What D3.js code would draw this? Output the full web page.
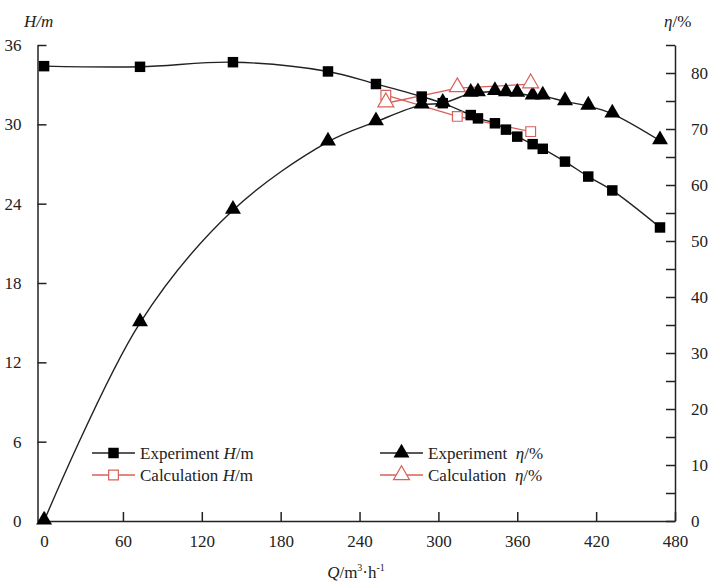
<!DOCTYPE html>
<meta charset="utf-8">
<style>
body { margin: 0; background: #fff; }
svg text { font-family: "Liberation Serif", "Times New Roman", serif; fill: #222; }
.tick text { font-size: 17px; }
.domain { stroke: #222; stroke-width: 1.5px; }
.tick line { stroke: #222; stroke-width: 1.5px; }
</style>
<svg width="712" height="583" id="chart"></svg>
<script src="https://d3js.org/d3.v7.min.js"></script>
<script>

// experiment (flow, head, efficiency)
var expQ   = [0, 73, 143.7, 216, 252.5, 287.3, 303.3, 324.6, 330.1, 343, 351.4, 360, 371.7, 379.4, 396.3, 414, 432.3, 468.6];
var expH   = [34.4, 34.35, 34.7, 34.0, 33.05, 32.1, 31.6, 30.7, 30.45, 30.08, 29.6, 29.07, 28.5, 28.15, 27.18, 26.05, 25.0, 22.2];
var expEta = [0, 35.4, 55.5, 67.7, 71.3, 74.3, 74.6, 76.4, 76.5, 76.7, 76.5, 76.4, 75.9, 75.9, 74.9, 74.1, 72.7, 67.9];

// calculation
var calcQ   = [260, 314.4, 370.2];
var calcH   = [32.2, 30.6, 29.45];
var calcEta = [74.6, 77.3, 78.0];

var xTicks = [0, 60, 120, 180, 240, 300, 360, 420, 480];
var hTicks = [0, 6, 12, 18, 24, 30, 36];
var etaTicks = d3.range(0, 86, 5);

var svg = d3.select("#chart"),
    plotL = 37.5, plotR = 675, plotT = 45, plotB = 521;

var x = d3.scaleLinear().domain([-5, 480]).range([plotL, plotR]);
var yH = d3.scaleLinear().domain([0, 36]).range([plotB, plotT]);
var yE = d3.scaleLinear().domain([0, 85]).range([plotB, plotT]);

var red = "#d9605a";

// axes, ticks pointing inward
svg.append("g")
    .attr("transform", "translate(0," + plotB + ")")
    .call(d3.axisBottom(x).tickValues(xTicks).tickSizeInner(-9).tickSizeOuter(0).tickPadding(14));

svg.append("g")
    .attr("transform", "translate(" + plotL + ",0)")
    .call(d3.axisLeft(yH).tickValues(hTicks).tickSizeInner(-9).tickSizeOuter(0).tickPadding(16));

svg.append("g")
    .attr("transform", "translate(" + plotR + ",0)")
    .call(d3.axisRight(yE).tickValues(etaTicks).tickSizeInner(-9).tickSizeOuter(0).tickPadding(16)
      .tickFormat(function(d) { return d % 10 === 0 ? d : ""; }));

svg.selectAll(".domain").attr("fill", "none");

var smooth = d3.line().curve(d3.curveCatmullRom.alpha(0.5));
var straight = d3.line();

function pts(qs, vs, ys) {
  return qs.map(function(q, i) { return [x(q), ys(vs[i])]; });
}

var g = svg.append("g");

g.append("path").attr("d", smooth(pts(expQ, expH, yH)))
  .attr("fill", "none").attr("stroke", "#222").attr("stroke-width", 1.4);
g.append("path").attr("d", smooth(pts(expQ, expEta, yE)))
  .attr("fill", "none").attr("stroke", "#222").attr("stroke-width", 1.4);

g.append("path").attr("d", straight(pts(calcQ, calcH, yH)))
  .attr("fill", "none").attr("stroke", red).attr("stroke-width", 1.3);
g.append("path").attr("d", straight(pts(calcQ, calcEta, yE)))
  .attr("fill", "none").attr("stroke", red).attr("stroke-width", 1.3);

var sq = d3.symbol().type(d3.symbolSquare).size(110);
var tri = d3.symbol().type(d3.symbolTriangle).size(110);
var sqOpen = d3.symbol().type(d3.symbolSquare).size(95);
var triOpen = d3.symbol().type(d3.symbolTriangle).size(110);

g.selectAll(".eh").data(pts(expQ, expH, yH)).enter().append("path")
  .attr("d", sq).attr("transform", function(d) { return "translate(" + d + ")"; })
  .attr("fill", "#000");
g.selectAll(".ee").data(pts(expQ, expEta, yE)).enter().append("path")
  .attr("d", tri).attr("transform", function(d) { return "translate(" + d[0] + "," + (d[1] - 1) + ")"; })
  .attr("fill", "#000");
g.selectAll(".ch").data(pts(calcQ, calcH, yH)).enter().append("path")
  .attr("d", sqOpen).attr("transform", function(d) { return "translate(" + d + ")"; })
  .attr("fill", "#fff").attr("stroke", red).attr("stroke-width", 1.2);
g.selectAll(".ce").data(pts(calcQ, calcEta, yE)).enter().append("path")
  .attr("d", triOpen).attr("transform", function(d) { return "translate(" + d[0] + "," + (d[1] - 1) + ")"; })
  .attr("fill", "#fff").attr("stroke", red).attr("stroke-width", 1.2);

// legend
var legend = [
  {x: 92, y: 453, color: "#222", sym: sq, fill: "#000", label: "Experiment ", it: "H", rest: "/m"},
  {x: 92, y: 475, color: red, sym: sqOpen, fill: "#fff", label: "Calculation ", it: "H", rest: "/m"},
  {x: 380, y: 453, color: "#222", sym: tri, fill: "#000", label: "Experiment\u00a0\u00a0", it: "η", rest: "/%"},
  {x: 380, y: 475, color: red, sym: triOpen, fill: "#fff", label: "Calculation\u00a0\u00a0", it: "η", rest: "/%"}
];
legend.forEach(function(l) {
  var lg = svg.append("g").attr("transform", "translate(" + l.x + "," + l.y + ")");
  lg.append("line").attr("x1", 0).attr("x2", 43).attr("stroke", l.color).attr("stroke-width", 1.4);
  lg.append("path").attr("d", l.sym).attr("transform", "translate(21.5,0)")
    .attr("fill", l.fill).attr("stroke", l.fill === "#fff" ? l.color : "none").attr("stroke-width", 1.2);
  var t = lg.append("text").attr("x", 48).attr("y", 5.5).attr("font-size", 17);
  t.append("tspan").text(l.label);
  t.append("tspan").attr("font-style", "italic").text(l.it);
  t.append("tspan").text(l.rest);
});

// axis titles
svg.append("text").attr("x", 24).attr("y", 27).attr("font-size", 17)
  .attr("font-style", "italic").text("H/m");
var et = svg.append("text").attr("x", 664).attr("y", 27).attr("font-size", 17);
et.append("tspan").attr("font-style", "italic").text("η");
et.append("tspan").text("/%");

var xt = svg.append("text").attr("x", 356).attr("y", 578).attr("font-size", 17).attr("text-anchor", "middle");
xt.append("tspan").attr("font-style", "italic").text("Q");
xt.append("tspan").text("/m");
xt.append("tspan").attr("font-size", 10).attr("dy", -7).text("3");
xt.append("tspan").attr("dy", 7).text("·h");
xt.append("tspan").attr("font-size", 10).attr("dy", -7).text("-1");

</script>
